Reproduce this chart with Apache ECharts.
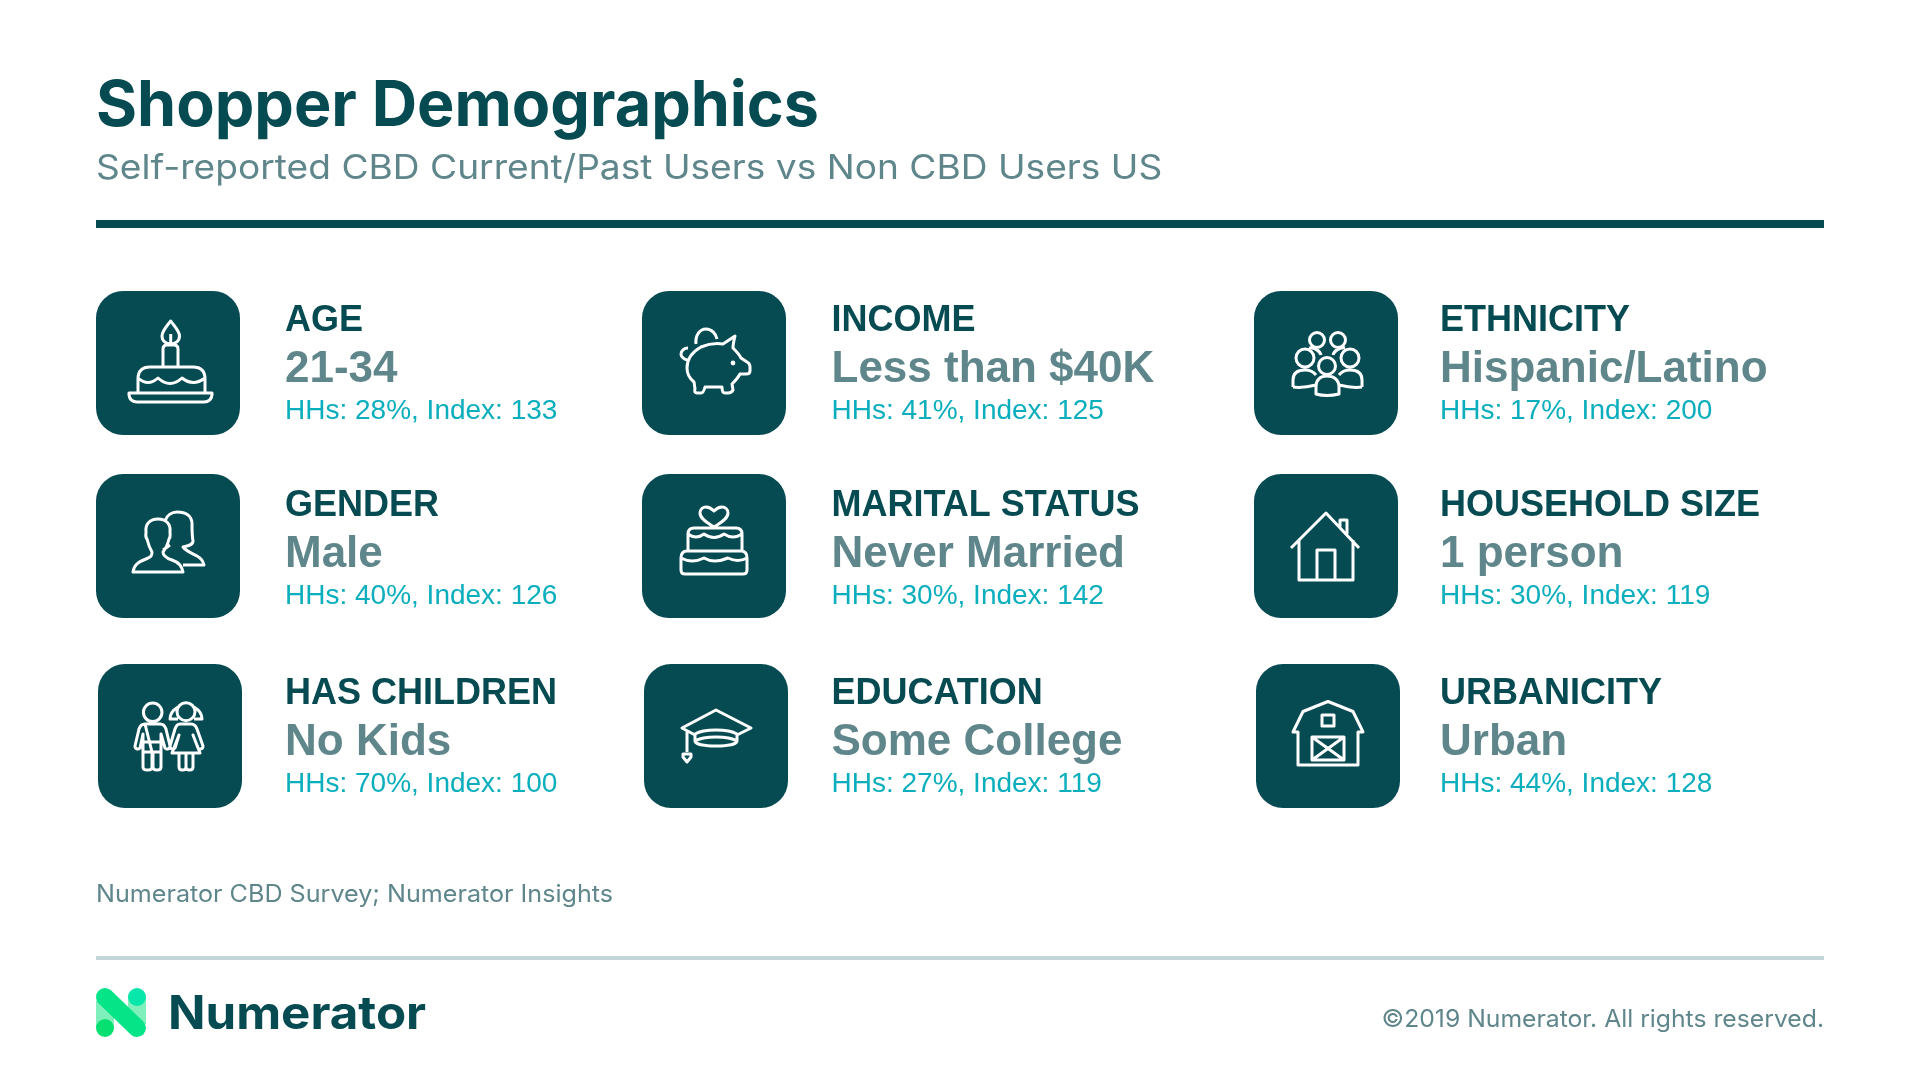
<!DOCTYPE html>
<html>
<head>
<meta charset="utf-8">
<title>Shopper Demographics</title>
<script src="https://cdn.jsdelivr.net/npm/echarts@6/dist/echarts.min.js"></script>
<style>
html,body{margin:0;padding:0;background:#fff;}
#main{width:1920px;height:1080px;}
</style>
</head>
<body>
<div id="main"></div>
<script>
var labels = ['AGE','GENDER','HAS CHILDREN','INCOME','MARITAL STATUS','EDUCATION','ETHNICITY','HOUSEHOLD SIZE','URBANICITY'];
var values = ['21-34','Male','No Kids','Less than $40K','Never Married','Some College','Hispanic/Latino','1 person','Urban'];
var hhShares = [28,40,70,41,30,27,17,30,44];
var indexes = [133,126,100,125,142,119,200,119,128];

var titleText = 'Shopper Demographics';
var subtitleText = 'Self-reported CBD Current/Past Users vs Non CBD Users US';
var sourceText = 'Numerator CBD Survey; Numerator Insights';
var copyrightText = '©2019 Numerator. All rights reserved.';
var logoText = 'Numerator';

var DARK = '#064b52', GREY = '#5f868b', TEAL = '#0aaebd';

// card layout
var colBox = [96,642,1254], colText = [285,831.5,1440];
var rowBox = [291,474,664], rowShift = [0,0,2];
var rowBase = [333.5,518.5,706.5];

function circle(cx,cy,r){
    return 'M'+(cx-r)+' '+cy+'a'+r+' '+r+' 0 1 0 '+(2*r)+' 0a'+r+' '+r+' 0 1 0 '+(-2*r)+' 0';
}

// icons drawn in a 144x144 box, the first two points pin the box for layout:cover
var PIN = 'M0 0L0 0M144 144L144 144';
var icons = [
    // cake
    'M74.7 30C70 36 66 40 66 45C66 50 70 53 74.7 53C79.5 53 83.5 50 83.5 45C83.5 40 79 36 74.7 30ZM74.7 43V53'
    +'M67 75V58Q67 54 71 54H78Q82 54 82 58V75'
    +'M42 102V88Q42 76 54 76H97Q109 76 109 88V102'
    +'M42 87Q52 96 62 87Q74 98 86 87Q97 96 109 87'
    +'M33 102H116V104Q115 111 108 111H41Q34 111 33 104Z',
    // couple
    'M37 98C38 91 42 88 50 85C55 83 56 82 56 78C53 73 52 69 51 65C49 63 50 60 50 58C49 50 54 45 62 45C70 45 75 50 74 58C74 61 75 63 73 65C72 69 71 73 67 78C67 82 70 84 76 86C82 88 86 92 87 98Z'
    +'M69 47C71 41 76 38 81 38C90 38 96 42 96 50C96 57 96 62 97 67C97 71 92 72 87 73C90 77 97 80 101 82C105 84 107 87 108 91H87'
    +'M67 76L74 71',
    // kids
    circle(54.7,48.3,9.3)
    +'M47 60H62C65 60 67 62 68 65L72 82C72 85 69 86 67 84L63 70V103C63 107 55 107 55 103V88'
    +'M54 88V103C54 107 45 107 45 103V70L42 84C40 86 37 85 37 82L41 65C42 62 44 60 47 60Z'
    +'M45 78H63M45 88H63'
    +circle(88,47.7,9)
    +'M80 43C75 46 72 50 72 55H80M96 43C101 46 104 50 104 55H96'
    +'M82 60H93C96 60 98 62 99 65L105 82C105 85 102 86 100 84L95 71L102 89H74L81 71L77 84C75 86 72 85 72 82L77 65C78 62 79 60 82 60Z'
    +'M81 89V103C81 107 88 107 88 103V89M88 103C88 107 95 107 95 103V89',
    // piggy bank
    'M81 53L93 45C92 49 91 53 91 57C94 60 97 63 99 67L105 71C107 72 108 74 108 76V80C108 82 106 83 104 83H98C96 87 93 90 90 93L91 99C90 101 88 102 86 102H83C81 102 80 100 80 96H63C62 100 61 102 59 102H55C53 102 52 100 53 98L52 91C47 87 45 82 45 77C45 68 50 61 59 56C66 53 74 52 81 53Z'
    +'M54 53C53 44 58 38 64 38C70 38 74 43 75 48'
    +'M46 57C42 57 39 60 39 63C39 66 42 68 45 69',
    // two tier cake with heart
    'M72 53C66 49 58 45 58 39C58 35 61 33 64 33C68 33 70 35 72 37C74 35 76 33 80 33C83 33 86 35 86 39C86 45 78 49 72 53Z'
    +'M46 77V60Q46 54 52 54H94Q100 54 100 60V77'
    +'M46 60Q54 66 62 60Q72 67 82 60Q91 66 100 60'
    +'M39 84V96Q39 100 43 100H101Q105 100 105 96V84Q105 77 99 77H45Q39 77 39 84Z'
    +'M39 84Q50 90 62 84Q72 90 86 84Q96 89 105 84',
    // graduation cap
    'M93 71L107 64L72 46L38 64L51 71'
    +'M51 69V77C51 80 60 82 72 82C84 82 93 80 93 77V69'
    +'M51 70C56 67 64 66 72 66C80 66 88 67 93 70'
    +'M51 77C56 74 64 73 72 73C80 73 88 74 93 77'
    +'M43 67V88M39 90H47V93L43 98L39 93Z',
    // people group
    circle(63,49,7.5)+circle(84,49,7.5)+circle(51,67,9)+circle(96,67,9)+circle(73,75,8.5)
    +'M39 96V89C39 82 44 79 51 79C55 79 59 80 62 84M62 94C54 96 46 97 39 96'
    +'M108 96V89C108 82 103 79 96 79C92 79 88 80 85 84M85 94C93 96 101 97 108 96'
    +'M62 103V96C62 89 66 85 73 85C80 85 85 89 85 96V103C77 105 69 105 62 103Z'
    +'M55 57C60 56 66 60 67 64M91 57C86 56 80 60 79 64',
    // house
    'M37 74L72 39L105 74M45 66V106H99V66M63 106V76H81V106M86 53V46H93V60',
    // barn
    'M72 37.5L97 47.5L107 68H102V101H42V68H37L47 47.5ZM66 51H78V62H66ZM56 73H88V96H56ZM56 73L88 96M88 73L56 96'
];
var pigEye = circle(91,72,2.4);

function line(t,x,base,size,weight,color,family,align,stretch){
    // middle of the em box sits about .35em above the baseline
    return {
        type:'text',
        x:x, y:base-size*0.35,
        scaleX:stretch||1,
        silent:true,
        style:{text:t,fill:color,fontSize:size,fontWeight:weight,fontFamily:family,align:align||'left',verticalAlign:'middle'}
    };
}

function renderCard(params){
    var i = params.dataIndex;
    var col = Math.floor(i/3), row = i%3;
    var x = colBox[col]+rowShift[row], y = rowBox[row], tx = colText[col], b = rowBase[row];
    var sans = '"Liberation Sans",Arial,sans-serif';
    var kids = [
        {type:'rect',shape:{x:x,y:y,width:144,height:144,r:27},style:{fill:DARK}},
        {type:'path',shape:{pathData:PIN+icons[i],layout:'cover',x:x,y:y,width:144,height:144},
            style:{fill:'none',stroke:'#fff',lineWidth:3,lineJoin:'round'}},
        line(labels[i],tx,b,36,'bold',DARK,sans),
        line(values[i],tx,b+52,44,'bold',GREY,sans),
        line('HHs: '+hhShares[i]+'%, Index: '+indexes[i],tx,b+88,28,'normal',TEAL,sans)
    ];
    if(i===3){
        kids.push({type:'path',shape:{pathData:PIN+pigEye,layout:'cover',x:x,y:y,width:144,height:144},style:{fill:'#fff'}});
    }
    return {type:'group',children:kids};
}

var chart = echarts.init(document.getElementById('main'));
chart.setOption({
    backgroundColor:'#fff',
    animation:false,
    series:[{
        type:'custom',
        coordinateSystem:'none',
        silent:true,
        data:labels.map(function(d,i){return [hhShares[i],indexes[i]];}),
        renderItem:renderCard
    }],
    graphic:{elements:[
        line(titleText,96,129.5,62.8,700,DARK,'Inter'),
        line(subtitleText,96,180.5,34,400,GREY,'Inter','left',1.092),
        {type:'rect',shape:{x:96,y:220,width:1728,height:8},style:{fill:DARK}},
        line(sourceText,96,903.5,24,400,GREY,'Inter','left',1.047),
        {type:'rect',shape:{x:96,y:956,width:1728,height:4},style:{fill:'#c5d6d9'}},
        // logo
        {type:'rect',shape:{x:96,y:1001,width:18,height:27},style:{fill:'#7ff0bc'}},
        {type:'rect',shape:{x:128,y:997,width:18,height:27},style:{fill:'#7ff0bc'}},
        {type:'circle',shape:{cx:137,cy:997,r:9},style:{fill:'#07e7ab'}},
        {type:'circle',shape:{cx:105,cy:1028,r:9},style:{fill:'#05e070'}},
        {type:'line',shape:{x1:105,y1:997,x2:137,y2:1028},style:{stroke:'#05e588',lineWidth:18,lineCap:'round'}},
        line(logoText,168,1031.5,46,700,DARK,'Inter','left',1.07),
        line(copyrightText,1824,1028,24,400,GREY,'Inter','right',1.03)
    ]}
});
</script>
</body>
</html>
